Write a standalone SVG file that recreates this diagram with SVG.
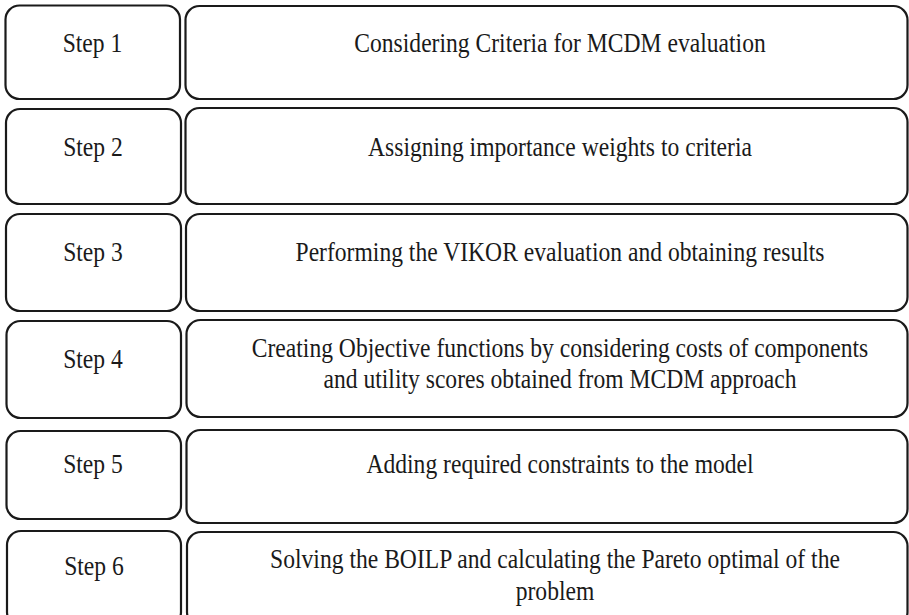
<svg xmlns="http://www.w3.org/2000/svg" width="909" height="615" viewBox="0 0 909 615">
<style>
.b{fill:#fff;stroke:#1a1a1a;stroke-width:2.2}
text{font-family:"Liberation Serif","Times New Roman",serif;font-size:23.6px;fill:#1a1a1a;text-anchor:middle}
</style>
<rect width="909" height="615" fill="#fff"/>
<g id="step1">
<rect class="b" x="5.5" y="5.5" width="174.5" height="93.5" rx="14"/>
<text transform="translate(92.5,52) scale(1,1.12)">Step 1</text>
</g>
<g id="task1">
<rect class="b" x="185.5" y="6" width="722" height="93" rx="14"/>
<text transform="translate(560,52) scale(1,1.12)">Considering Criteria for MCDM evaluation</text>
</g>
<g id="step2">
<rect class="b" x="6" y="109" width="175" height="95" rx="14"/>
<text transform="translate(93,156) scale(1,1.12)">Step 2</text>
</g>
<g id="task2">
<rect class="b" x="185.5" y="108" width="722" height="96" rx="14"/>
<text transform="translate(560,156) scale(1,1.12)">Assigning importance weights to criteria</text>
</g>
<g id="step3">
<rect class="b" x="6" y="214" width="175" height="97" rx="14"/>
<text transform="translate(93,261) scale(1,1.12)">Step 3</text>
</g>
<g id="task3">
<rect class="b" x="186" y="214" width="721.5" height="97" rx="14"/>
<text transform="translate(560,261) scale(1,1.12)">Performing the VIKOR evaluation and obtaining results</text>
</g>
<g id="step4">
<rect class="b" x="6.5" y="321" width="174.5" height="97" rx="14"/>
<text transform="translate(93,368) scale(1,1.12)">Step 4</text>
</g>
<g id="task4">
<rect class="b" x="186.5" y="320" width="721" height="97" rx="14"/>
<text transform="translate(560,357) scale(1,1.12)">Creating Objective functions by considering costs of components</text>
<text transform="translate(560,388) scale(1,1.12)">and utility scores obtained from MCDM approach</text>
</g>
<g id="step5">
<rect class="b" x="6.5" y="431" width="174.5" height="88" rx="14"/>
<text transform="translate(93,473) scale(1,1.12)">Step 5</text>
</g>
<g id="task5">
<rect class="b" x="186.5" y="430" width="721" height="93" rx="14"/>
<text transform="translate(560,473) scale(1,1.12)">Adding required constraints to the model</text>
</g>
<g id="step6">
<rect class="b" x="7" y="531" width="174" height="95" rx="14"/>
<text transform="translate(94,575) scale(1,1.12)">Step 6</text>
</g>
<g id="task6">
<rect class="b" x="187" y="532" width="720.5" height="94" rx="14"/>
<text transform="translate(555,568) scale(1,1.12)">Solving the BOILP and calculating the Pareto optimal of the</text>
<text transform="translate(555,600) scale(1,1.12)">problem</text>
</g>
<g id="connectors"></g>
</svg>
